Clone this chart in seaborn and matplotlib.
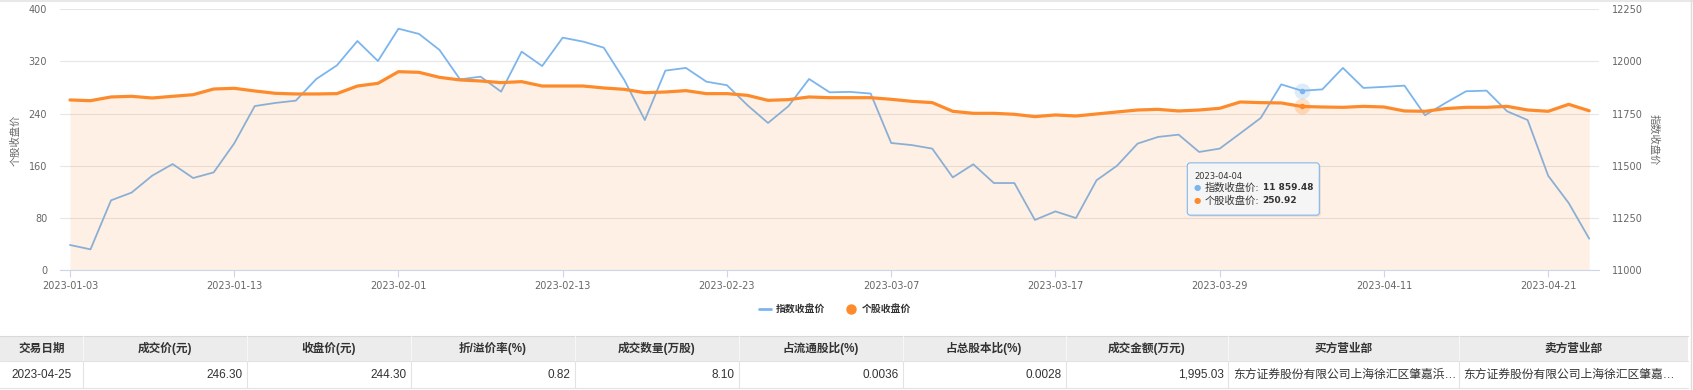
import matplotlib
matplotlib.use('Agg')
import numpy as np
import pandas as pd
import matplotlib.pyplot as plt
import seaborn as sns
from matplotlib.lines import Line2D
from matplotlib.patches import FancyBboxPatch, Rectangle
from matplotlib.transforms import IdentityTransform

# ── Data ──────────────────────────────────────────────────────
dates = ['2023-01-03', '2023-01-04', '2023-01-05', '2023-01-06', '2023-01-09', '2023-01-10',
         '2023-01-11', '2023-01-12', '2023-01-13', '2023-01-16', '2023-01-17', '2023-01-18',
         '2023-01-19', '2023-01-20', '2023-01-30', '2023-01-31',
         '2023-02-01', '2023-02-02', '2023-02-03', '2023-02-06', '2023-02-07', '2023-02-08',
         '2023-02-09', '2023-02-10', '2023-02-13', '2023-02-14', '2023-02-15', '2023-02-16',
         '2023-02-17', '2023-02-20', '2023-02-21', '2023-02-22', '2023-02-23', '2023-02-24',
         '2023-02-27', '2023-02-28',
         '2023-03-01', '2023-03-02', '2023-03-03', '2023-03-06', '2023-03-07', '2023-03-08',
         '2023-03-09', '2023-03-10', '2023-03-13', '2023-03-14', '2023-03-15', '2023-03-16',
         '2023-03-17', '2023-03-20', '2023-03-21', '2023-03-22', '2023-03-23', '2023-03-24',
         '2023-03-27', '2023-03-28', '2023-03-29', '2023-03-30', '2023-03-31',
         '2023-04-03', '2023-04-04', '2023-04-06', '2023-04-07', '2023-04-10', '2023-04-11',
         '2023-04-12', '2023-04-13', '2023-04-14', '2023-04-17', '2023-04-18', '2023-04-19',
         '2023-04-20', '2023-04-21', '2023-04-24', '2023-04-25']

# 指数收盘价 (right axis)
index_close = [11120, 11099, 11334, 11371, 11452, 11508, 11441, 11468, 11607, 11786,
               11801, 11812, 11916, 11981, 12098, 12002, 12157, 12132, 12055, 11914,
               11927, 11855, 12047, 11978, 12114, 12095, 12066, 11911, 11719, 11956,
               11969, 11903, 11886, 11790, 11705, 11786, 11916, 11852, 11854, 11846,
               11609, 11599, 11582, 11444, 11507, 11417, 11417, 11240, 11281, 11249,
               11430, 11500, 11606, 11638, 11649, 11566, 11582, 11655, 11729, 11890,
               11859.48, 11866, 11969, 11873, 11878, 11884, 11742, 11801, 11857, 11860,
               11761, 11719, 11452, 11321, 11150]

# 个股收盘价 (left axis)
stock_close = [260.9, 259.8, 265.5, 266.5, 263.9, 266.5, 269.0, 277.7, 278.8, 274.7,
               271.1, 270.1, 270.1, 270.6, 282.3, 286.4, 304.3, 303.3, 295.6, 291.6,
               290.0, 287.5, 289.0, 282.3, 282.3, 282.3, 279.3, 277.2, 272.1, 273.1,
               275.2, 270.6, 270.6, 268.0, 260.3, 261.4, 265.5, 264.4, 264.4, 264.4,
               261.9, 258.8, 256.8, 243.5, 240.4, 240.4, 238.9, 235.3, 237.9, 236.3,
               239.4, 242.5, 245.5, 246.5, 244.0, 245.5, 248.1, 257.8, 256.8, 256.3,
               250.92, 250.1, 249.6, 251.1, 250.1, 244.0, 243.5, 247.6, 249.6, 249.6,
               251.1, 245.5, 243.5, 254.2, 244.3]

series_names = ['指数收盘价', '个股收盘价']
left_ticks = [0, 80, 160, 240, 320, 400]
right_ticks = [11000, 11250, 11500, 11750, 12000, 12250]
tip_pos = 60   # hovered point: 2023-04-04

table_headers = ['交易日期', '成交价(元)', '收盘价(元)', '折/溢价率(%)', '成交数量(万股)',
                 '占流通股比(%)', '占总股本比(%)', '成交金额(万元)', '买方营业部', '卖方营业部']
table_row = ['2023-04-25', '246.30', '244.30', '0.82', '8.10', '0.0036', '0.0028',
             '1,995.03', '东方证券股份有限公司上海徐汇区肇嘉浜…', '东方证券股份有限公司上海徐汇区肇嘉…']

df = pd.DataFrame({'pos': np.arange(len(dates)), 'date': dates,
                   'index_close': index_close, 'stock_close': stock_close})

# ── Style ─────────────────────────────────────────────────────
BLUE = '#7cb5ec'
ORANGE = '#fd8b2c'
GRID = '#e6e6e6'
AXIS = '#ccd6eb'
TXT = '#666666'

sns.set_theme(style='white')
plt.rcParams['font.family'] = ['DejaVu Sans', 'Noto Sans CJK SC']
plt.rcParams['axes.unicode_minus'] = False

W, H = 1693, 390
fig = plt.figure(figsize=(W / 100, H / 100), dpi=100)
fig.patch.set_facecolor('white')

# plot area in pixels (left, top, right, bottom)
pl, pt, pr, pb = 59.7, 9.3, 1599.5, 270.0
ax = fig.add_axes([pl / W, 1 - pb / H, (pr - pl) / W, (pb - pt) / H])
ax2 = ax.twinx()
ax.set_zorder(3)
ax2.set_zorder(2)
ax.patch.set_visible(False)
ax2.patch.set_visible(False)

# ── Lines ─────────────────────────────────────────────────────
sns.lineplot(data=df, x='pos', y='index_close', ax=ax2, color=BLUE, lw=1.3, legend=False)
ax.fill_between(df['pos'], 0, df['stock_close'], color=ORANGE, alpha=0.12, lw=0, zorder=1)
sns.lineplot(data=df, x='pos', y='stock_close', ax=ax, color=ORANGE, lw=2.3, legend=False,
             zorder=3)

# ── Axes ──────────────────────────────────────────────────────
ax.set_xlim(-0.5, len(dates) - 0.5)
ax.set_ylim(left_ticks[0], left_ticks[-1])
ax2.set_ylim(right_ticks[0], right_ticks[-1])
ax.set_yticks(left_ticks)
ax2.set_yticks(right_ticks)
ax.set_xticks(df['pos'][::8])
ax.set_xticklabels(df['date'][::8])
ax.set_xlabel('')
ax.set_ylabel('')
ax2.set_ylabel('')

ax2.yaxis.grid(True, color=GRID, lw=0.8)
ax2.xaxis.grid(False)
ax.grid(False)

for s in ['left', 'right', 'top']:
    ax.spines[s].set_visible(False)
for s in ax2.spines.values():
    s.set_visible(False)
ax.spines['bottom'].set_color(AXIS)
ax.spines['bottom'].set_linewidth(0.8)
ax.spines['bottom'].set_zorder(5)

ax.tick_params(axis='x', bottom=True, colors=AXIS, length=5, width=0.8, pad=3,
               labelcolor=TXT, labelsize=7)
ax.tick_params(axis='y', left=False, length=0, pad=9, labelcolor=TXT, labelsize=7)
ax2.tick_params(axis='y', right=False, length=0, pad=9, labelcolor=TXT, labelsize=7)

fig.text(15 / W, 1 - 140 / H, series_names[1], rotation=90, ha='center', va='center',
         fontsize=7.4, color=TXT)
fig.text(1654 / W, 1 - 140 / H, series_names[0], rotation=270, ha='center', va='center',
         fontsize=7.4, color=TXT)

# ── Hover markers + tooltip ───────────────────────────────────
ax2.plot(df['pos'][tip_pos], df['index_close'][tip_pos], 'o', ms=11.5, color=BLUE,
         alpha=0.25, mec='none')
ax2.plot(df['pos'][tip_pos], df['index_close'][tip_pos], 'o', ms=4, color=BLUE, mec='none')
ax.plot(df['pos'][tip_pos], df['stock_close'][tip_pos], 'o', ms=11.5, color=ORANGE,
        alpha=0.25, mec='none', zorder=6)
ax.plot(df['pos'][tip_pos], df['stock_close'][tip_pos], 'o', ms=4, color=ORANGE,
        mec='none', zorder=6)

px, py = ax.transData.transform((df['pos'][tip_pos], df['stock_close'][tip_pos]))
bx, btop, bw, bh = px - 114.5, py - 56.4, 132, 52.3
shadow = FancyBboxPatch((bx + 1.5, btop - bh - 1.5), bw, bh,
                        boxstyle='round,pad=0,rounding_size=3', fc='black', ec='none',
                        alpha=0.08, transform=IdentityTransform(), zorder=8)
box = FancyBboxPatch((bx, btop - bh), bw, bh, boxstyle='round,pad=0,rounding_size=3',
                     fc='#f7f7f7', ec=BLUE, lw=0.8, alpha=0.95,
                     transform=IdentityTransform(), zorder=9)
fig.add_artist(shadow)
fig.add_artist(box)

tip_lines = [(series_names[0], f"{df['index_close'][tip_pos]:,.2f}".replace(',', ' '), BLUE, 81.4),
             (series_names[1], f"{df['stock_close'][tip_pos]:.2f}", ORANGE, 94.4)]
fig.text(px - 107.9, py - 69.7, df['date'][tip_pos], transform=IdentityTransform(),
         ha='left', va='center', fontsize=6, color='#333333', zorder=10)
for name, val, col, dy in tip_lines:
    fig.text(px - 104.5, py - dy, '●', transform=IdentityTransform(), ha='center',
             va='center', fontsize=6, color=col, zorder=10)
    fig.text(px - 97.2, py - dy, name + ':', transform=IdentityTransform(), ha='left',
             va='center', fontsize=7.4, color='#333333', zorder=10)
    fig.text(px - 39.3, py - dy, val, transform=IdentityTransform(), ha='left',
             va='center', fontsize=6.5, color='#333333', fontweight='bold', zorder=10)

# ── Legend ────────────────────────────────────────────────────
handles = [Line2D([0], [0], color=BLUE, lw=2),
           Line2D([0], [0], marker='o', color=ORANGE, lw=0, ms=6.5)]
fig.legend(handles, series_names, loc='center', bbox_to_anchor=(835 / W, 1 - 309.5 / H),
           ncol=2, frameon=False, handlelength=1.3, handletextpad=0.5, columnspacing=1.9,
           prop={'weight': 'bold', 'size': 7.1}, labelcolor='#333333')

# ── Table below the chart ─────────────────────────────────────
tab = fig.add_axes([0, 0, 1, 1], zorder=-1)
tab.set_xlim(0, W)
tab.set_ylim(H, 0)
tab.axis('off')

col_edges = [0, 82.6, 246.6, 410.5, 574.5, 738.5, 902.6, 1065.6, 1228.4, 1458.5, 1688]
aligns = ['center', 'right', 'right', 'right', 'right', 'right', 'right', 'right', 'left', 'left']
h_top, h_bot, r_bot = 335.7, 361.3, 388.3
tfont = ['Liberation Sans', 'Noto Sans CJK SC']

tab.add_patch(Rectangle((0, h_top), col_edges[-1], h_bot - h_top, fc='#ececec', ec='none'))
tab.plot([0, col_edges[-1]], [h_top, h_top], color='#d9d9d9', lw=0.8)
tab.plot([0, col_edges[-1]], [h_bot, h_bot], color='#e3e3e3', lw=0.8)
tab.plot([0, col_edges[-1]], [r_bot, r_bot], color='#e3e3e3', lw=0.8)
for x in col_edges[1:-1]:
    tab.plot([x, x], [h_top, h_bot], color='#f7f7f7', lw=0.8)
    tab.plot([x, x], [h_bot, r_bot], color='#e3e3e3', lw=0.8)

for i, (head, cell) in enumerate(zip(table_headers, table_row)):
    x0, x1 = col_edges[i], col_edges[i + 1]
    tab.text((x0 + x1) / 2, (h_top + h_bot) / 2, head, ha='center', va='center',
             fontsize=8.4, color='#333333', fontweight='bold', family=tfont)
    if aligns[i] == 'center':
        tx = (x0 + x1) / 2
    elif aligns[i] == 'right':
        tx = x1 - 4
    else:
        tx = x0 + 4.5
    tab.text(tx, (h_bot + r_bot) / 2, cell, ha=aligns[i], va='center',
             fontsize=8.5, color='#333333', family=tfont)

# page frame lines
tab.plot([0, W], [0.8, 0.8], color='#e8e8e8', lw=1.5)
tab.plot([1691, 1691], [0, H], color='#dddddd', lw=1.0)

plt.savefig('out.png', dpi=100, facecolor='white')
